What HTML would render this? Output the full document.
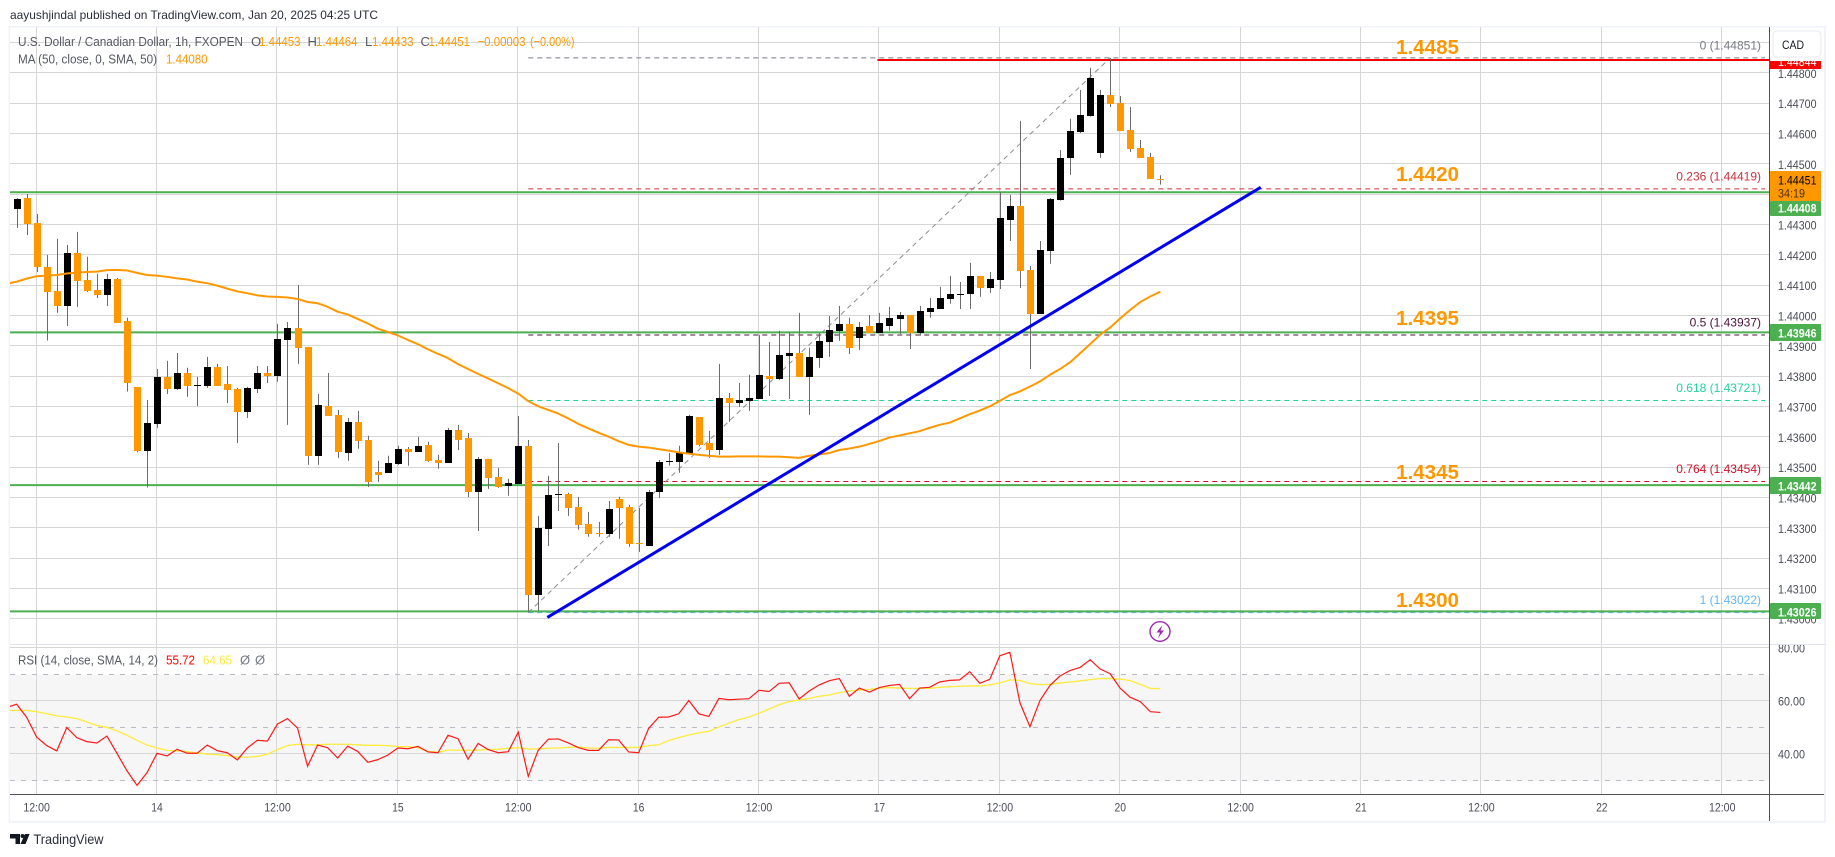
<!DOCTYPE html>
<html lang="en">
<head>
<meta charset="utf-8">
<title>USD/CAD 1h chart</title>
<style>
html,body{margin:0;padding:0;background:#fff;}
body{width:1835px;height:857px;overflow:hidden;}
svg{display:block;font-family:"Liberation Sans",sans-serif;}
</style>
</head>
<body>
<svg id="chart" xmlns="http://www.w3.org/2000/svg" width="1835" height="857" viewBox="0 0 1835 857">
  <defs>
    <clipPath id="main-clip"><rect x="10" y="27" width="1759" height="617"/></clipPath>
    <clipPath id="rsi-clip"><rect x="10" y="648" width="1759" height="146"/></clipPath>
    <clipPath id="red-label-clip"><rect x="1770" y="61" width="51" height="8"/></clipPath>
    <clipPath id="rsi-tick-clip"><rect x="1770" y="645" width="51" height="149"/></clipPath>
  </defs>

  <rect x="0" y="0" width="1835" height="857" fill="#ffffff"/>
  <text x="10" y="19" font-size="12" fill="#2a2e39" textLength="368" lengthAdjust="spacingAndGlyphs">aayushjindal published on TradingView.com, Jan 20, 2025 04:25 UTC</text>

  <rect x="9" y="26" width="1817" height="1.5" fill="#f0f3fa"/>
  <rect x="8.5" y="26" width="1.5" height="797" fill="#f0f3fa"/>
  <rect x="1824" y="26" width="2" height="797" fill="#f0f3fa"/>
  <rect x="9" y="821" width="1817" height="2" fill="#f0f3fa"/>

  <rect x="10" y="675" width="1759" height="106" fill="#f6f6f6"/>
  <g id="grid"></g>
  <g id="rsi-levels"></g>

  <g clip-path="url(#main-clip)">
    <g id="fib"></g>
    <g id="levels"></g>
    <g id="candles"></g>
    <path id="ma-line" fill="none" stroke="#ff9800" stroke-width="2" stroke-linejoin="round"/>
    <line id="trendline" stroke="#0000f5" stroke-width="3" stroke-linecap="butt"/>
  </g>

  <g clip-path="url(#rsi-clip)">
    <path id="rsi-ma-line" fill="none" stroke="#ffeb3b" stroke-width="1.3"/>
    <path id="rsi-line" fill="none" stroke="#ff1a1a" stroke-width="1.2"/>
  </g>

  <rect x="10" y="644" width="1816" height="1" fill="#e0e3eb"/>
  <rect x="10" y="794" width="1814" height="1" fill="#50535e"/>
  <rect x="1769" y="27" width="1" height="794" fill="#50535e"/>

  <g id="price-ticks"></g>
  <g id="rsi-ticks" clip-path="url(#rsi-tick-clip)"></g>
  <g id="time-ticks"></g>

  <rect x="1773" y="31" width="48" height="26" rx="4" fill="#ffffff" stroke="#e6e8ef" stroke-width="1"/>
  <text x="1793" y="49" text-anchor="middle" font-size="12" fill="#131722" textLength="22" lengthAdjust="spacingAndGlyphs">CAD</text>

  <rect x="1770" y="61" width="51" height="8" fill="#ff0000"/>
  <text x="1778" y="66" font-size="12" fill="#ffffff" clip-path="url(#red-label-clip)" textLength="38.5" lengthAdjust="spacingAndGlyphs">1.44844</text>

  <rect x="1770" y="171" width="51" height="30" fill="#ff9800"/>
  <text x="1778" y="184.5" font-size="12" fill="#000000" textLength="38.5" lengthAdjust="spacingAndGlyphs">1.44451</text>
  <text x="1778" y="197.5" font-size="12" fill="#4d3200" textLength="27" lengthAdjust="spacingAndGlyphs">34:19</text>

  <rect x="1770" y="201" width="51" height="15" rx="1" fill="#4caf50"/>
  <text x="1778" y="212.5" font-size="12" font-weight="700" fill="#ffffff" textLength="38.5" lengthAdjust="spacingAndGlyphs">1.44408</text>
  <rect x="1770" y="324" width="51" height="17" rx="1" fill="#4caf50"/>
  <text x="1778" y="337.5" font-size="12" font-weight="700" fill="#ffffff" textLength="38.5" lengthAdjust="spacingAndGlyphs">1.43946</text>
  <rect x="1770" y="477" width="51" height="17" rx="1" fill="#4caf50"/>
  <text x="1778" y="490.5" font-size="12" font-weight="700" fill="#ffffff" textLength="38.5" lengthAdjust="spacingAndGlyphs">1.43442</text>
  <rect x="1770" y="603" width="51" height="16" rx="1" fill="#4caf50"/>
  <text x="1778" y="616.5" font-size="12" font-weight="700" fill="#ffffff" textLength="38.5" lengthAdjust="spacingAndGlyphs">1.43026</text>

  <g font-size="20" font-weight="700" fill="#ff9800">
    <text x="1396" y="54" textLength="63" lengthAdjust="spacingAndGlyphs">1.4485</text>
    <text x="1396" y="181" textLength="63" lengthAdjust="spacingAndGlyphs">1.4420</text>
    <text x="1396" y="325" textLength="63" lengthAdjust="spacingAndGlyphs">1.4395</text>
    <text x="1396" y="479" textLength="63" lengthAdjust="spacingAndGlyphs">1.4345</text>
    <text x="1396" y="607" textLength="63" lengthAdjust="spacingAndGlyphs">1.4300</text>
  </g>

  <g font-size="13">
    <text x="18" y="46" fill="#555862" textLength="225" lengthAdjust="spacingAndGlyphs">U.S. Dollar / Canadian Dollar, 1h, FXOPEN</text>
    <text x="251" y="46" fill="#555862">O</text>
    <text x="259" y="46" fill="#ff9800" textLength="41.5" lengthAdjust="spacingAndGlyphs">1.44453</text>
    <text x="307.5" y="46" fill="#555862">H</text>
    <text x="316" y="46" fill="#ff9800" textLength="41.5" lengthAdjust="spacingAndGlyphs">1.44464</text>
    <text x="365" y="46" fill="#555862">L</text>
    <text x="372" y="46" fill="#ff9800" textLength="41.5" lengthAdjust="spacingAndGlyphs">1.44433</text>
    <text x="420.5" y="46" fill="#555862">C</text>
    <text x="428.5" y="46" fill="#ff9800" textLength="41.5" lengthAdjust="spacingAndGlyphs">1.44451</text>
    <text x="477.5" y="46" fill="#ff9800" textLength="48" lengthAdjust="spacingAndGlyphs">−0.00003</text>
    <text x="530" y="46" fill="#ff9800" textLength="44.5" lengthAdjust="spacingAndGlyphs">(−0.00%)</text>
    <text x="18" y="63.5" fill="#555862" textLength="139" lengthAdjust="spacingAndGlyphs">MA (50, close, 0, SMA, 50)</text>
    <text x="166" y="63.5" fill="#ff9800" textLength="41.5" lengthAdjust="spacingAndGlyphs">1.44080</text>
  </g>
  <g font-size="13">
    <text x="18" y="664.5" fill="#555862" textLength="140" lengthAdjust="spacingAndGlyphs">RSI (14, close, SMA, 14, 2)</text>
    <text x="166" y="664.5" fill="#ff0000" textLength="29" lengthAdjust="spacingAndGlyphs">55.72</text>
    <text x="203" y="664.5" fill="#ffeb3b" textLength="29" lengthAdjust="spacingAndGlyphs">64.65</text>
    <text x="240" y="664.5" fill="#787b86">Ø</text>
    <text x="255" y="664.5" fill="#787b86">Ø</text>
  </g>

  <g id="fib-labels"></g>

  <g>
    <ellipse cx="1160" cy="631.5" rx="10" ry="9.8" fill="#ffffff" stroke="#9c27b0" stroke-width="1.4"/>
    <polygon points="1162.5,625 1156.5,632.5 1160,632.5 1158,638 1164,630.5 1160.5,630.5" fill="#9c27b0"/>
  </g>

  <g>
    <polygon points="10,834 20,834 20,844 15.5,844 15.5,838.5 10,838.5" fill="#131722"/>
    <circle cx="22.5" cy="836" r="2" fill="#131722"/>
    <polygon points="25,834 29.6,834 25.5,844 20.5,844" fill="#131722"/>
    <text x="33.5" y="844" font-size="14" fill="#2a2e39" textLength="70" lengthAdjust="spacingAndGlyphs">TradingView</text>
  </g>
</svg>

<script>
const priceTicks = [1.449,1.448,1.447,1.446,1.445,1.444,1.443,1.442,1.441,1.44,1.439,1.438,1.437,1.436,1.435,1.434,1.433,1.432,1.431,1.43];
const rsiGridTicks = [80,60,40];
const rsiBandLevels = [70,50,30];
const timeLabels = ['12:00','14','12:00','15','12:00','16','12:00','17','12:00','20','12:00','21','12:00','22','12:00'];
const firstTimeLabelBar = 2;
const barsPerLabel = 12;

const opens = [
1.44353,1.44389,1.44306,1.44162,1.44083,1.44033,1.44208,1.44119,1.44086,1.44069,
1.44122,1.43984,1.43766,1.43555,1.43644,1.43799,1.43759,1.43812,1.43771,1.43769,
1.43832,1.43776,1.43759,1.43684,1.43759,1.43812,1.43802,1.43921,1.43961,1.43898,
1.43539,1.43703,1.43674,1.43548,1.43651,1.43591,1.43486,1.43483,1.43512,1.43562,
1.43552,1.43575,1.43525,1.43515,1.43624,1.43598,1.43420,1.43529,1.43469,1.43440,
1.43446,1.43572,1.43080,1.43298,1.43411,1.43413,1.43370,1.43314,1.43285,1.43281,
1.43397,1.43370,1.43252,1.43242,1.43420,1.43520,1.43519,1.43545,1.43667,1.43581,
1.43558,1.43730,1.43713,1.43720,1.43726,1.43802,1.43792,1.43868,1.43878,1.43799,
1.43862,1.43914,1.43951,1.43974,1.43928,1.43967,1.43944,1.43967,1.43990,1.44003,
1.43944,1.44013,1.44023,1.44056,1.44071,1.44073,1.44132,1.44092,1.44119,1.44317,
1.44363,1.44152,1.44007,1.44214,1.44383,1.44521,1.44607,1.44660,1.44538,1.44729,
1.44702,1.44613,1.44554,1.44524,1.44453];

const highs = [
1.44389,1.44402,1.44336,1.44201,1.44254,1.44234,1.44277,1.44195,1.44139,1.44139,
1.44125,1.43994,1.43766,1.43723,1.43825,1.43852,1.43878,1.43829,1.43799,1.43865,
1.43842,1.43835,1.43763,1.43766,1.43835,1.43835,1.43974,1.43980,1.44102,1.43898,
1.43743,1.43812,1.43690,1.43664,1.43687,1.43605,1.43522,1.43539,1.43572,1.43568,
1.43601,1.43585,1.43542,1.43631,1.43641,1.43614,1.43535,1.43529,1.43499,1.43463,
1.43670,1.43591,1.43341,1.43473,1.43581,1.43417,1.43403,1.43354,1.43321,1.43390,
1.43404,1.43377,1.43367,1.43426,1.43525,1.43548,1.43572,1.43674,1.43667,1.43621,
1.43842,1.43746,1.43779,1.43806,1.43938,1.43914,1.43951,1.43947,1.44010,1.43895,
1.43944,1.44000,1.44033,1.43994,1.43980,1.44003,1.44010,1.44030,1.44013,1.44003,
1.44033,1.44059,1.44096,1.44132,1.44112,1.44175,1.44132,1.44145,1.44409,1.44399,
1.44643,1.44165,1.44247,1.44389,1.44547,1.44650,1.44745,1.44818,1.44745,1.44851,
1.44725,1.44689,1.44580,1.44538,1.44464];

const lows = [
1.44290,1.44267,1.44145,1.43919,1.44010,1.43967,1.44030,1.44079,1.44059,1.44033,
1.43978,1.43751,1.43550,1.43434,1.43631,1.43743,1.43756,1.43733,1.43703,1.43763,
1.43769,1.43713,1.43581,1.43664,1.43746,1.43779,1.43783,1.43641,1.43842,1.43509,
1.43509,1.43670,1.43532,1.43522,1.43562,1.43436,1.43453,1.43483,1.43509,1.43506,
1.43552,1.43519,1.43496,1.43515,1.43558,1.43403,1.43291,1.43430,1.43433,1.43407,
1.43446,1.43024,1.43028,1.43242,1.43357,1.43341,1.43295,1.43272,1.43272,1.43272,
1.43265,1.43239,1.43222,1.43242,1.43400,1.43506,1.43483,1.43545,1.43570,1.43532,
1.43542,1.43651,1.43700,1.43687,1.43726,1.43736,1.43789,1.43726,1.43799,1.43674,
1.43829,1.43865,1.43918,1.43875,1.43888,1.43944,1.43944,1.43951,1.43941,1.43891,
1.43935,1.43994,1.44023,1.44040,1.44023,1.44023,1.44063,1.44076,1.44089,1.44247,
1.44092,1.43825,1.44007,1.44172,1.44380,1.44465,1.44603,1.44657,1.44521,1.44689,
1.44610,1.44541,1.44521,1.44452,1.44433];

const closes = [
1.44386,1.44303,1.44160,1.44079,1.44033,1.44208,1.44116,1.44083,1.44069,1.44122,
1.43978,1.43778,1.43555,1.43647,1.43799,1.43759,1.43812,1.43769,1.43772,1.43832,
1.43769,1.43756,1.43684,1.43763,1.43812,1.43802,1.43924,1.43961,1.43895,1.43539,
1.43707,1.43670,1.43552,1.43651,1.43588,1.43453,1.43476,1.43515,1.43562,1.43552,
1.43572,1.43522,1.43515,1.43624,1.43591,1.43420,1.43529,1.43466,1.43436,1.43450,
1.43572,1.43080,1.43301,1.43410,1.43413,1.43367,1.43311,1.43281,1.43283,1.43364,
1.43367,1.43248,1.43250,1.43420,1.43519,1.43522,1.43548,1.43670,1.43575,1.43558,
1.43730,1.43713,1.43723,1.43730,1.43806,1.43792,1.43872,1.43878,1.43799,1.43865,
1.43918,1.43954,1.43974,1.43895,1.43964,1.43944,1.43977,1.43994,1.44003,1.43944,
1.44017,1.44027,1.44059,1.44073,1.44073,1.44132,1.44092,1.44122,1.44323,1.44363,
1.44149,1.44007,1.44218,1.44386,1.44521,1.44610,1.44663,1.44785,1.44729,1.44699,
1.44610,1.44551,1.44521,1.44452,1.44451];

/* Indicator series begin one bar before the first candle (bar -1), just off the pane edge. */
const ma50 = [
1.44106,1.44113,1.44123,1.44131,1.44133,1.44135,1.44140,1.44143,1.44145,1.44146,1.44151,
1.44152,1.44150,1.44142,1.44135,1.44133,1.44129,1.44124,1.44120,1.44113,1.44108,
1.44100,1.44090,1.44081,1.44075,1.44068,1.44064,1.44063,1.44061,1.44056,1.44046,
1.44042,1.44030,1.44014,1.44005,1.43990,1.43975,1.43958,1.43947,1.43936,1.43921,
1.43907,1.43890,1.43875,1.43861,1.43841,1.43825,1.43809,1.43794,1.43778,1.43762,
1.43744,1.43719,1.43702,1.43690,1.43678,1.43662,1.43644,1.43629,1.43615,1.43602,
1.43587,1.43575,1.43569,1.43566,1.43561,1.43556,1.43550,1.43546,1.43542,1.43539,
1.43536,1.43536,1.43537,1.43537,1.43537,1.43536,1.43536,1.43534,1.43532,1.43539,
1.43543,1.43548,1.43558,1.43563,1.43569,1.43578,1.43588,1.43599,1.43606,1.43613,
1.43620,1.43631,1.43641,1.43648,1.43662,1.43676,1.43688,1.43702,1.43720,1.43739,
1.43751,1.43767,1.43784,1.43806,1.43825,1.43847,1.43877,1.43907,1.43938,1.43962,
1.43992,1.44020,1.44046,1.44064,1.44080];

const rsiValues = [
57.7,58.9,54.0,46.5,43.3,41.3,50.1,46.3,44.8,44.3,46.9,
40.4,33.8,28.3,33.1,40.4,39.4,41.9,40.4,40.4,43.5,
41.4,40.6,37.9,42.4,45.3,45.0,51.4,53.5,49.9,35.5,
43.5,42.5,38.6,43.1,41.1,37.0,38.0,39.7,42.4,42.1,
43.0,40.9,40.6,47.2,45.9,38.2,44.1,41.8,40.6,41.0,
48.4,31.7,41.6,45.7,45.8,44.3,42.5,41.5,41.5,45.5,
45.4,40.9,40.6,49.8,54.0,54.1,55.3,60.3,55.3,54.3,
61.1,60.6,60.8,61.0,64.2,63.7,66.8,67.0,60.9,63.9,
66.2,67.8,68.6,61.9,65.0,63.5,65.2,66.0,66.4,61.0,
65.0,65.3,67.3,67.9,68.1,71.2,66.8,68.3,77.2,78.5,
59.5,50.4,60.3,66.0,69.6,71.6,72.8,75.7,72.2,70.4,
64.9,61.5,59.9,56.1,55.8];

const rsiSma = [
56.5,56.6,56.6,56.1,55.3,54.5,54.1,53.5,52.2,50.9,50.2,
48.9,47.2,45.3,43.5,42.4,41.5,41.3,41.0,40.5,40.1,
39.9,39.5,39.0,38.9,39.2,40.1,41.8,43.3,43.8,43.6,
43.6,43.8,43.8,43.8,43.6,43.4,43.4,43.3,42.9,42.9,
42.5,41.1,40.8,41.6,41.6,41.5,41.6,41.8,41.9,42.3,
42.5,42.0,42.0,42.3,42.4,42.6,42.8,42.4,42.3,42.6,
42.6,42.6,42.6,43.3,43.6,45.2,46.3,47.3,48.1,48.7,
50.3,51.8,53.1,54.1,55.5,57.1,58.7,59.9,60.5,61.1,
61.9,62.4,63.3,63.9,64.3,64.5,65.0,65.2,65.0,64.9,
64.9,64.9,65.3,65.5,65.7,65.8,65.8,66.2,66.9,68.1,
67.9,66.7,66.3,66.4,66.9,67.3,67.7,68.2,68.6,68.6,
68.4,67.8,66.4,64.9,64.8];

const greenLevels = [1.44408,1.43946,1.43442,1.43026];
const redLevelPrice = 1.44844;
const redLevelStartBar = 85.8;
const fibRatios = ['0','0.236','0.5','0.618','0.764','1'];
const fibPrices = [1.44851,1.44419,1.43937,1.43721,1.43454,1.43022];
const fibAnchorBars = [51,109];
const fibColors = ['#787b86','#c9303e','#4a1438','#22d39c','#d3102a','#64b5f6'];
const trendBars = [52.9,124];
const trendPrices = [1.43006,1.44424];

const SVG_NS = 'http://www.w3.org/2000/svg';
function xBar(i){ return 16.6 + 10.033 * i; }
function yPrice(p){ return 73.3 + (1.448 - p) * 30330; }
function yRsi(v){ return 701.33 + (60 - v) * 2.65; }
function crisp(v){ return Math.round(v) + 0.5; }
function make(tag, attrs){
  const el = document.createElementNS(SVG_NS, tag);
  for (const k in attrs) el.setAttribute(k, attrs[k]);
  return el;
}
const $ = id => document.getElementById(id);

/* grid */
const GRID = '#d6d6d6';
for (const p of priceTicks) {
  const line = make('line', {x1:10, x2:1769, y1:crisp(yPrice(p))-1, y2:crisp(yPrice(p))-1, stroke:GRID, 'stroke-width':1});
  
  
  $('grid').appendChild(line);
}
for (const v of rsiGridTicks) {
  const line = make('line', {x1:10, x2:1769, y1:crisp(yRsi(v))-1, y2:crisp(yRsi(v))-1, stroke:GRID, 'stroke-width':1});
  
  
  $('grid').appendChild(line);
}
timeLabels.forEach((label, k) => {
  const x = xBar(firstTimeLabelBar + k * barsPerLabel);
  const line = make('line', {x1:crisp(x)-1, x2:crisp(x)-1, y1:27, y2:794, stroke:GRID, 'stroke-width':1});
  
  
  $('grid').appendChild(line);
  const t = make('text', {x:x, y:811.5, 'text-anchor':'middle', 'font-size':12, fill:'#4a4d57', textLength: label.length > 2 ? 26.5 : 11.5, lengthAdjust:'spacingAndGlyphs'});
  
  
  t.textContent = label;
  $('time-ticks').appendChild(t);
});

/* rsi band levels */
for (const v of rsiBandLevels) {
  const line = make('line', {x1:10, x2:1769, y1:crisp(yRsi(v))-1, y2:crisp(yRsi(v))-1, stroke:'#b9bbc4', 'stroke-width':1, 'stroke-dasharray':'5 6'});
  
  
  $('rsi-levels').appendChild(line);
}

/* axis labels */
for (const p of priceTicks.slice(1)) {
  const t = make('text', {x:1778, y:yPrice(p)+4.5, 'font-size':12, fill:'#4a4d57', textLength:38.5, lengthAdjust:'spacingAndGlyphs'});
  
  
  t.textContent = p.toFixed(5);
  $('price-ticks').appendChild(t);
}
for (const v of rsiGridTicks) {
  const t = make('text', {x:1778, y:yRsi(v)+4, 'font-size':12, fill:'#4a4d57', textLength:27, lengthAdjust:'spacingAndGlyphs'});
  
  
  t.textContent = v.toFixed(2);
  $('rsi-ticks').appendChild(t);
}

/* fibonacci */
fibPrices.forEach((p, k) => {
  const y = yPrice(p);
  const line = make('line', {x1:xBar(fibAnchorBars[0]), x2:1765, y1:y, y2:y, stroke:fibColors[k], 'stroke-width':1, 'stroke-dasharray':'5 4'});
  
  
  $('fib').appendChild(line);
  const t = make('text', {x:1761, y:y-8.5, 'text-anchor':'end', 'font-size':12, fill:fibColors[k]});
  
  
  t.textContent = fibRatios[k] + ' (' + p.toFixed(5) + ')';
  $('fib-labels').appendChild(t);
});
const fibDiag = make('line', {
  x1:xBar(fibAnchorBars[0]), y1:yPrice(fibPrices[5]),
  x2:xBar(fibAnchorBars[1]), y2:yPrice(fibPrices[0]),
  stroke:'#8a8d97', 'stroke-width':1, 'stroke-dasharray':'5 4'});


$('fib').appendChild(fibDiag);

/* levels */
for (const p of greenLevels) {
  const line = make('line', {x1:10, x2:1769, y1:yPrice(p), y2:yPrice(p), stroke:'#4caf50', 'stroke-width':2});
  
  
  $('levels').appendChild(line);
}
const redLine = make('line', {x1:xBar(redLevelStartBar), x2:1769, y1:yPrice(redLevelPrice), y2:yPrice(redLevelPrice), stroke:'#f00000', 'stroke-width':2});


$('levels').appendChild(redLine);

/* candles */
opens.forEach((o, i) => {
  const c = closes[i];
  const x = Math.round(xBar(i));
  const up = c >= o;
  const wick = make('line', {x1:x+0.5, x2:x+0.5, y1:yPrice(highs[i]), y2:yPrice(lows[i]), stroke:'#6b6b6b', 'stroke-width':1});
  
  
  $('candles').appendChild(wick);
  const top = Math.round(yPrice(Math.max(o, c)));
  const h = Math.max(1, Math.round(yPrice(Math.min(o, c))) - top);
  const body = make('rect', {x:x-3, y:top, width:7, height:h, fill: up ? '#000000' : '#ff9800'});
  
  
  $('candles').appendChild(body);
});

/* lines */
function linePath(values, yFn){
  return values.map((v, k) => (k ? 'L' : 'M') + xBar(k - 1).toFixed(2) + ' ' + yFn(v).toFixed(2)).join(' ');
}
$('ma-line').setAttribute('d', linePath(ma50, yPrice));
$('rsi-line').setAttribute('d', linePath(rsiValues, yRsi));
$('rsi-ma-line').setAttribute('d', linePath(rsiSma, yRsi));

const tl = $('trendline');
tl.setAttribute('x1', xBar(trendBars[0]));
tl.setAttribute('y1', yPrice(trendPrices[0]));
tl.setAttribute('x2', xBar(trendBars[1]));
tl.setAttribute('y2', yPrice(trendPrices[1]));
</script>
</body>
</html>
